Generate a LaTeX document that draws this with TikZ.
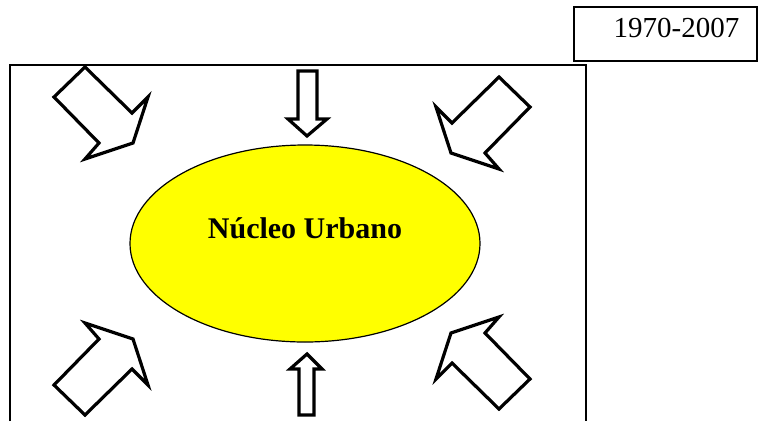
\documentclass[tikz,border=0pt]{standalone}
\usepackage{fontspec}
\setmainfont{Liberation Serif}
\usepackage{tikz}
\usetikzlibrary{shapes.geometric}
\definecolor{amarelo}{RGB}{255,255,0}

\begin{document}
\begin{tikzpicture}[x=1pt,y=-1pt,
                    bloco/.style={draw,line width=3.2pt,fill=white,line join=miter}]
                      \useasboundingbox (0,0) rectangle (760,421);
                      \draw[line width=2pt] (10,421) -- (10,65) -- (586,65) -- (586,421);
                      \node[draw,line width=1.3pt,minimum width=183pt,minimum height=54pt](caixa)at(665.5,34){};
                      \node[anchor=base,font=\fontsize{29}{34}\selectfont](periodo)at(676.5,37){1970-2007};
                      \node[ellipse,draw,fill=amarelo,line width=1.2pt,minimum width=350pt,minimum height=197pt](nucleo)at(305,243.5){};
                      \node[anchor=base,font=\fontsize{30}{36}\selectfont\bfseries](rotulo)at(305,238){Núcleo Urbano};
                      \draw[bloco] (85,67) -- (54,97) -- (99,143) -- (85,159) -- (133,143) -- (148,97) -- (132,113) -- cycle;
                      \draw[bloco,shift={(584,10)},xscale=-1] (85,67) -- (54,97) -- (99,143) -- (85,159) -- (133,143) -- (148,97) -- (132,113) -- cycle;
                      \draw[bloco,shift={(0,482)},yscale=-1] (85,67) -- (54,97) -- (99,143) -- (85,159) -- (133,143) -- (148,97) -- (132,113) -- cycle;
                      \draw[bloco,shift={(584,476)},xscale=-1,yscale=-1] (85,67) -- (54,97) -- (99,143) -- (85,159) -- (133,143) -- (148,97) -- (132,113) -- cycle;
                      \draw[bloco] (298,71) -- (317,71) -- (317,119) -- (327,119) -- (307,136) -- (288,119) -- (298,119) -- cycle;
                      \draw[bloco] (299,415) -- (314,415) -- (314,369) -- (322,369) -- (307,354) -- (290,369) -- (299,369) -- cycle;
                  \end{tikzpicture}
\end{document}
